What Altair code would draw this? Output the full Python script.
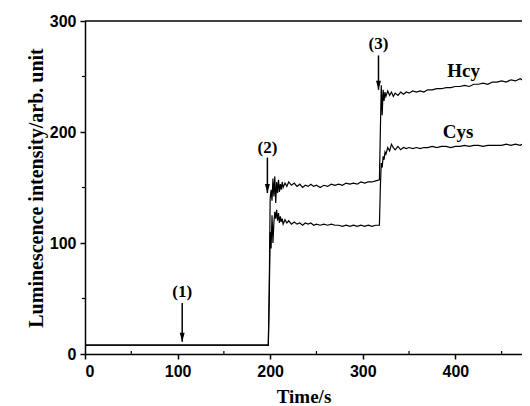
import altair as alt
import pandas as pd

# ---- data ----
time = [0, 198, 199, 200, 201, 202, 203, 204, 205, 206, 207, 208, 209, 210, 211, 212, 213, 214,
        216, 218, 220, 223, 226, 229, 232, 235, 238, 241, 244, 247, 250, 254, 258, 262, 266, 270,
        274, 278, 282, 286, 290, 294, 298, 302, 306, 310, 314, 318, 319, 320, 321, 322, 323, 324,
        325, 327, 329, 331, 333, 335, 338, 341, 344, 347, 350, 354, 358, 362, 366, 370, 375, 380,
        385, 390, 395, 400, 405, 410, 415, 420, 425, 430, 435, 440, 445, 450, 455, 460, 465, 470,
        475, 481]
hcy = [8, 8, 60, 140, 148, 138, 158, 142, 160, 136, 155, 145, 157, 146, 153, 148, 155, 150,
       154, 151, 155, 152, 154, 151, 153, 150, 152, 151, 153, 151, 152, 150, 152, 151, 153, 152,
       153, 152, 154, 153, 154, 153, 155, 154, 155, 155, 156, 157, 200, 242, 215, 238, 228, 236,
       232, 237, 233, 236, 232, 235, 233, 236, 234, 236, 235, 237, 236, 237, 236, 238, 238, 239,
       239, 240, 240, 241, 241, 242, 241, 243, 243, 244, 243, 245, 245, 246, 245, 247, 246, 248,
       247, 248]
cys = [8, 8, 50, 110, 95, 125, 100, 118, 128, 122, 130, 120, 127, 118, 124, 119, 122, 117,
       121, 118, 120, 117, 119, 117, 118, 116, 118, 117, 118, 116, 117, 116, 117, 116, 117, 116,
       116, 115, 116, 115, 116, 115, 116, 115, 116, 115, 116, 116, 150, 172, 168, 178, 175, 182,
       180, 186, 183, 189, 186, 184, 187, 184, 186, 185, 186, 185, 186, 185, 186, 186, 187, 186,
       187, 187, 186, 187, 187, 188, 187, 188, 188, 187, 188, 188, 188, 188, 189, 188, 189, 188,
       189, 189]

arrow_labels = ["(1)", "(2)", "(3)"]
arrow_t = [105, 197, 317]
arrow_label_y = [56, 186, 279]
arrow_top_y = [46, 177, 269]
arrow_tip_y = [11, 145, 238]

series_names = ["Hcy", "Cys"]
series_label_t = [409, 403]
series_label_y = [255, 200]

x_ticks = [0, 100, 200, 300, 400]
x_minor = [50, 150, 250, 350, 450]
y_ticks = [0, 100, 200, 300]
y_minor = [50, 150, 250]

X_MAX = 472
W, H = 437, 333

lines_df = pd.DataFrame({
    "t": time * 2,
    "v": hcy + cys,
    "series": ["Hcy"] * len(time) + ["Cys"] * len(time),
})
shaft_df = pd.DataFrame({"t": arrow_t, "v": arrow_top_y, "v2": arrow_tip_y})
head_df = pd.DataFrame({"t": arrow_t, "v": arrow_tip_y})
alabel_df = pd.DataFrame({"t": arrow_t, "v": arrow_label_y, "label": arrow_labels})
names_df = pd.DataFrame({"t": series_label_t, "v": series_label_y, "name": series_names})

xs = alt.Scale(domain=[0, X_MAX], nice=False, zero=False, clamp=True)
ys = alt.Scale(domain=[0, 300], nice=False)

X = alt.X("t:Q", scale=xs, title="Time/s", axis=alt.Axis(values=x_ticks, format="d"))
Y = alt.Y("v:Q", scale=ys, title="Luminescence intensity/arb. unit",
          axis=alt.Axis(values=y_ticks, format="d"))

SERIF = "Liberation Serif"
SANS = "Liberation Sans"

lines = alt.Chart(lines_df).mark_line(color="black", strokeWidth=1.2, clip=True).encode(
    x=X, y=Y, detail="series:N",
)

shafts = alt.Chart(shaft_df).mark_rule(color="black", strokeWidth=1.5).encode(
    x=X, y=Y, y2="v2:Q",
)

heads = alt.Chart(head_df).mark_point(
    shape="M-0.55,-1L0.55,-1L0,1Z", filled=True, color="black", opacity=1,
    size=81, yOffset=-4.5, strokeWidth=0,
).encode(x=X, y=Y)

arrow_text = alt.Chart(alabel_df).mark_text(
    font=SERIF, fontWeight="bold", fontSize=17, color="black", baseline="middle"
).encode(x=X, y=Y, text="label:N")

name_text = alt.Chart(names_df).mark_text(
    font=SERIF, fontWeight="bold", fontSize=19, color="black", baseline="middle"
).encode(x=X, y=Y, text="name:N")

top_border = alt.Chart(pd.DataFrame({"a": [0]})).mark_rule(color="black", strokeWidth=1.5).encode(
    x=alt.value(0), x2=alt.value(W), y=alt.value(0)
)

xminor = alt.Chart(pd.DataFrame({"t": x_minor})).mark_rule(color="black", strokeWidth=1.2).encode(
    x=X, y=alt.value(H), y2=alt.value(H - 3)
)
yminor = alt.Chart(pd.DataFrame({"v": y_minor})).mark_rule(color="black", strokeWidth=1.2).encode(
    y=Y, x=alt.value(-3), x2=alt.value(0)
)

chart = alt.layer(lines, shafts, heads, arrow_text, name_text, top_border, xminor, yminor).properties(
    width=W, height=H,
    autosize=alt.AutoSizeParams(type="none"),
    padding={"left": 77, "top": 13, "right": 0, "bottom": 52},
).configure_view(stroke=None).configure_axis(
    domainColor="black", domainWidth=1.5, tickColor="black", tickWidth=1.5, tickSize=5,
    labelFont=SANS, labelFontWeight="bold", labelFontSize=16, labelColor="black",
    titleFont=SERIF, titleFontWeight="bold", titleColor="black",
    grid=False, labelPadding=4,
).configure_axisX(titlePadding=8, titleFontSize=19).configure_axisY(titlePadding=3, titleFontSize=20)

chart.save("out.html", embed_options={"renderer": "svg", "actions": False})
